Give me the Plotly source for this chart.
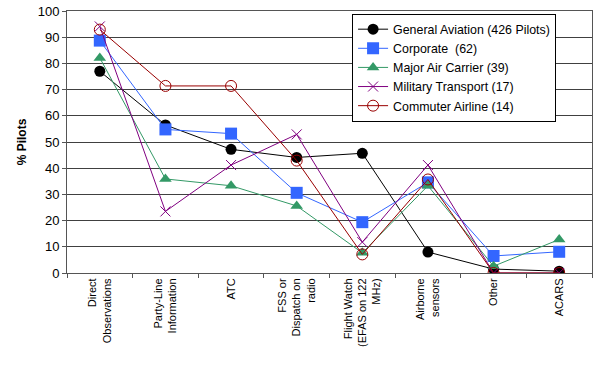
import plotly.graph_objects as go

categories = ["Direct<br>Observations", "Party-Line<br>Information", "ATC",
              "FSS or<br>Dispatch on<br>radio", "Flight Watch<br>(EFAS on 122<br>MHz)",
              "Airborne<br>sensors", "Other", "ACARS"]

general_aviation = [77, 56.5, 47.2, 44.1, 45.7, 8.0, 1.5, 0.7]
corporate = [88.7, 54.8, 53.2, 30.6, 19.4, 34.6, 6.5, 8.1]
major_air_carrier = [82.1, 35.9, 33.3, 25.6, 7.7, 33.3, 2.6, 12.8]
military_transport = [94.1, 23.5, 41.2, 52.9, 11.8, 41.2, 0, 0]
commuter_airline = [92.9, 71.4, 71.4, 42.9, 7.1, 35.7, 0, 0]

series = [
    ("General Aviation (426 Pilots)", general_aviation, "#000000",
     dict(symbol="circle", size=11, color="#000000")),
    ("Corporate  (62)", corporate, "#3366FF",
     dict(symbol="square", size=12, color="#3366FF")),
    ("Major Air Carrier (39)", major_air_carrier, "#339966",
     dict(symbol="triangle-up", size=11, color="#339966")),
    ("Military Transport (17)", military_transport, "#800080",
     dict(symbol="x-thin", size=10, color="#800080", line=dict(color="#800080", width=1))),
    ("Commuter Airline (14)", commuter_airline, "#990000",
     dict(symbol="circle-open", size=11, color="#990000", line=dict(color="#990000", width=1))),
]

fig = go.Figure()
for name, vals, col, mk in series:
    fig.add_trace(go.Scatter(x=categories, y=vals, name=name, mode="lines+markers",
                             line=dict(color=col, width=1), marker=mk))

fig.update_layout(
    width=594, height=366,
    margin=dict(l=67, r=2, t=11, b=93),
    paper_bgcolor="white", plot_bgcolor="white",
    font=dict(family="Arial, Liberation Sans, sans-serif", color="#000000"),
    showlegend=True,
    legend=dict(x=0.543, y=0.99, xanchor="left", yanchor="top",
                bordercolor="#000000", borderwidth=1, bgcolor="white",
                font=dict(size=12.4), tracegroupgap=0, itemwidth=30),
    xaxis=dict(type="category", tickangle=-90, tickfont=dict(size=11),
               showline=True, linecolor="#555555", linewidth=1, mirror=True,
               ticks="outside", ticklen=4, tickcolor="#555555", tickson="boundaries",
               showgrid=False, range=[-0.5, 7.5], automargin=False),
    yaxis=dict(range=[0, 100], dtick=10, tickfont=dict(size=13),
               showline=True, linecolor="#555555", linewidth=1, mirror=True,
               ticks="outside", ticklen=4, tickcolor="#555555",
               showgrid=True, gridcolor="#404040", gridwidth=1, zeroline=False,
               automargin=False,
               title=dict(text="<b>% Pilots</b>", font=dict(size=12), standoff=8)),
)

fig.write_html("out.html", config={"displayModeBar": False},
               post_script="document.body.style.margin='0';document.body.style.overflow='hidden';")
